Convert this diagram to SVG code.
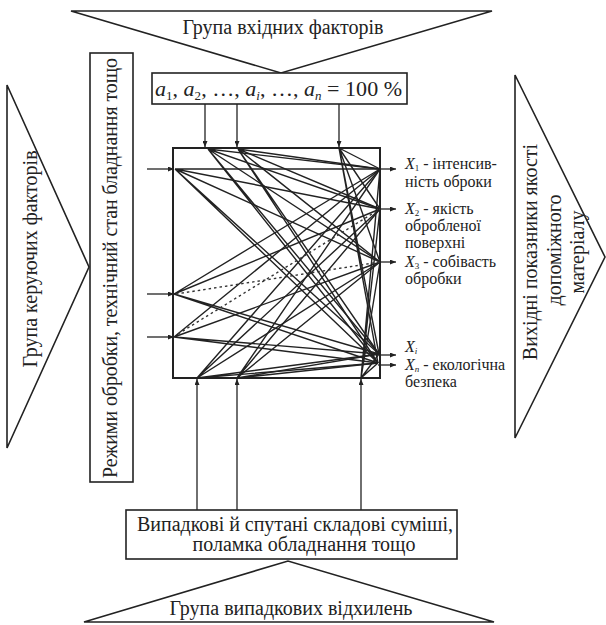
<svg xmlns="http://www.w3.org/2000/svg" width="606" height="625" viewBox="0 0 606 625" font-family="'Liberation Serif','Times New Roman',serif">
<style>
.shape{fill:#fff;stroke:#222;stroke-width:1.6}
.box{fill:none;stroke:#222;stroke-width:2}
.ln{fill:none;stroke:#222;stroke-width:1.4}
.dot{fill:none;stroke:#333;stroke-width:1.4;stroke-dasharray:2.5 3}
.arr{fill:none;stroke:#222;stroke-width:1.3;marker-end:url(#ah)}
text{font-family:"Liberation Serif","Times New Roman",serif;fill:#222}
.t20{font-size:20px}
.t16{font-size:16px}
.i{font-style:italic}
.sub{font-size:9px}
</style>
<defs>
<marker id="ah" markerWidth="6" markerHeight="5" refX="6" refY="2.5" orient="auto" markerUnits="userSpaceOnUse">
<path d="M0,0 L6,2.5 L0,5 z" fill="#222"/>
</marker>
</defs>
<rect width="606" height="625" fill="#fff"/>

<g id="top-group">
<polygon class="shape" points="71,11 492,11 281,73"/>
<text class="t20" x="283" y="34" text-anchor="middle">Група вхідних факторів</text>
</g>

<g id="input-box">
<rect class="shape" x="152" y="73" width="255" height="31"/>
<text x="155" y="96" font-size="22" textLength="247" lengthAdjust="spacing"><tspan class="i">a</tspan><tspan font-size="13" dy="4">1</tspan><tspan dy="-4">, </tspan><tspan class="i">a</tspan><tspan font-size="13" dy="4">2</tspan><tspan dy="-4">, …, </tspan><tspan class="i">a</tspan><tspan class="i" font-size="13" dy="4">i</tspan><tspan dy="-4">, …, </tspan><tspan class="i">a</tspan><tspan class="i" font-size="13" dy="4">n</tspan><tspan dy="-4"> = 100 %</tspan></text>
</g>

<g id="left-group">
<polygon class="shape" points="7,85 7,448 89,267"/>
<text class="t20" transform="translate(37,259) rotate(-90)" text-anchor="middle">Група керуючих факторів</text>
</g>

<g id="control-box">
<rect class="shape" x="90" y="53" width="43" height="429"/>
<text class="t20" transform="translate(117,268) rotate(-90)" text-anchor="middle" textLength="420" lengthAdjust="spacing">Режими обробки, технічний стан бладнання тощо</text>
</g>

<g id="right-group">
<polygon class="shape" points="515,75 515,438 605,257"/>
<text class="t20" transform="translate(537,252) rotate(-90)" text-anchor="middle">Вихідні показники якості</text>
<text class="t20" transform="translate(561,250) rotate(-90)" text-anchor="middle">допоміжного</text>
<text class="t20" transform="translate(584,252) rotate(-90)" text-anchor="middle">матеріалу</text>
</g>

<g id="noise-box">
<rect class="shape" x="126" y="510" width="331" height="49"/>
<text class="t20" x="137" y="531" textLength="316" lengthAdjust="spacing">Випадкові й спутані складові суміші,</text>
<text class="t20" x="304" y="551" text-anchor="middle">поламка обладнання тощо</text>
</g>

<g id="bottom-group">
<polygon class="shape" points="84,622 494,622 288,561"/>
<text class="t20" x="291" y="615" text-anchor="middle">Група випадкових відхилень</text>
</g>

<g id="black-box">
<rect class="box" x="173" y="148" width="207" height="230"/>
</g>

<g id="outputs">
<text class="t16" x="405" y="169"><tspan class="i">X</tspan><tspan class="sub" dy="2">1</tspan><tspan dy="-2"> - інтенсив-</tspan></text>
<text class="t16" x="405" y="187">ність оброки</text>
<text class="t16" x="405" y="214"><tspan class="i">X</tspan><tspan class="sub" dy="2">2</tspan><tspan dy="-2"> - якість</tspan></text>
<text class="t16" x="405" y="231">обробленої</text>
<text class="t16" x="405" y="248">поверхні</text>
<text class="t16" x="405" y="267"><tspan class="i">X</tspan><tspan class="sub" dy="2">3</tspan><tspan dy="-2"> - собівасть</tspan></text>
<text class="t16" x="405" y="284">обробки</text>
<text class="t16" x="405" y="352"><tspan class="i">X</tspan><tspan class="sub i" dy="2">i</tspan></text>
<text class="t16" x="405" y="370"><tspan class="i">X</tspan><tspan class="sub i" dy="2">n</tspan><tspan dy="-2"> - екологічна</tspan></text>
<text class="t16" x="405" y="387">безпека</text>
</g>

<g id="connectors">
<path class="arr" d="M205,104 V147"/>
<path class="arr" d="M237,104 V147"/>
<path class="arr" d="M339,104 V147"/>
<path class="arr" d="M147,169 H174"/>
<path class="arr" d="M147,294 H174"/>
<path class="arr" d="M147,337 H174"/>
<path class="arr" d="M197,510 V379"/>
<path class="arr" d="M237,510 V379"/>
<path class="arr" d="M361,510 V379"/>
<path class="arr" d="M380,169 H396"/>
<path class="arr" d="M380,209 H396"/>
<path class="arr" d="M380,262 H396"/>
<path class="arr" d="M379,355 H396"/>
<path class="arr" d="M378,365 H396"/>

<path class="ln" d="M208,149 L380,169 M208,149 L380,209 M208,149 L380,262 M208,149 L379,354 M208,149 L378,363"/>
<path class="ln" d="M238,149 L380,169 M238,149 L380,209 M238,149 L380,262 M238,149 L379,354 M238,149 L378,363"/>
<path class="ln" d="M339,148 L380,169 M339,148 L380,209 M339,148 L380,262 M339,148 L379,354 M339,148 L378,363"/>
<path class="ln" d="M175,169 L380,169 M175,169 L380,209 M175,169 L380,262 M175,169 L379,354 M175,169 L378,363"/>
<path class="ln" d="M174,294 L380,169 M174,294 L380,209 M174,294 L379,354 M174,294 L378,363"/>
<path class="ln" d="M174,337 L380,169 M174,337 L380,262 M174,337 L379,354 M174,337 L378,363"/>
<path class="ln" d="M197,378 L380,169 M197,378 L380,209 M197,378 L380,262 M197,378 L379,354 M197,378 L378,363"/>
<path class="ln" d="M237,378 L380,169 M237,378 L380,209 M237,378 L380,262 M237,378 L379,354 M237,378 L378,363"/>
<path class="ln" d="M361,378 L380,169 M361,378 L380,209 M361,378 L380,262 M361,378 L379,354 M361,378 L378,363"/>
<path class="dot" d="M176,294 L380,262"/>
<path class="dot" d="M178,334 L380,209"/>
</g>
</svg>
